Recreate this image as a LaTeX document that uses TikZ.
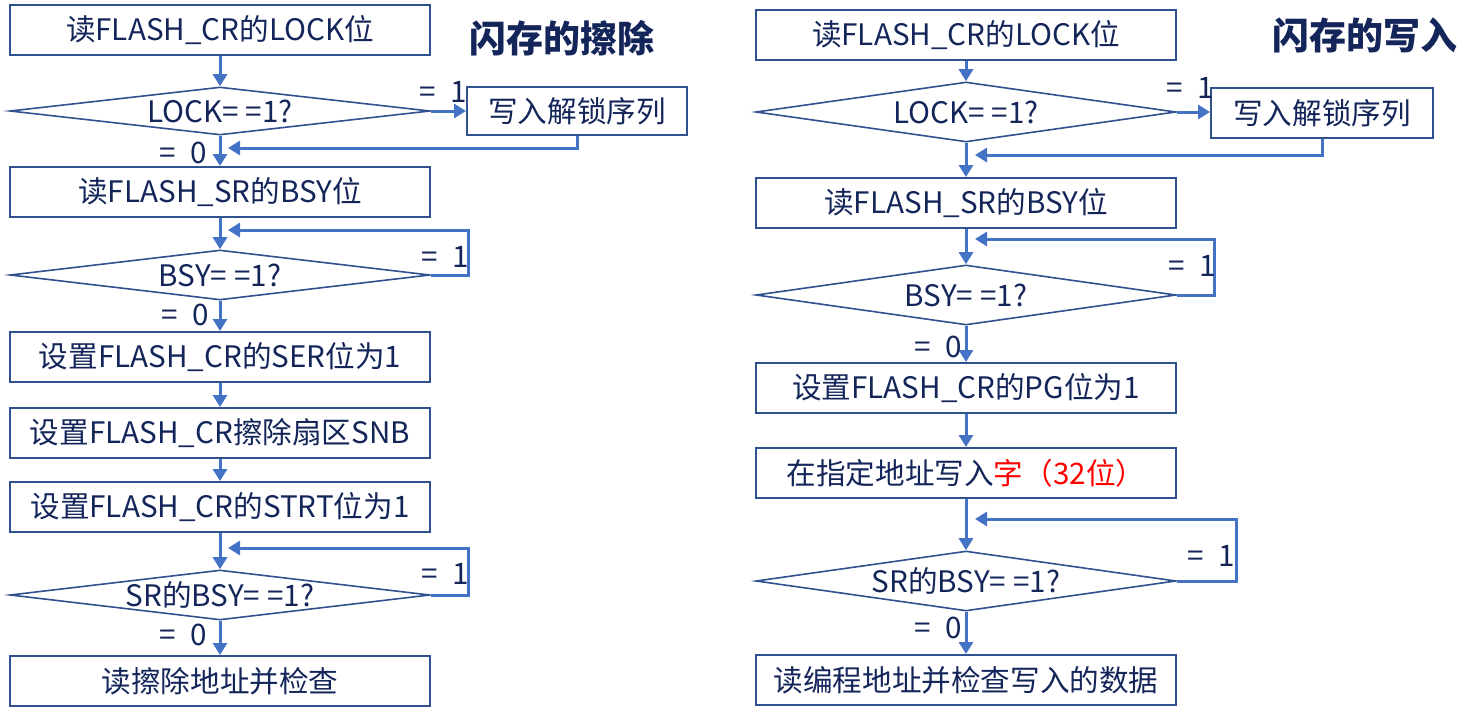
\documentclass[tikz,border=0pt]{standalone}
\usepackage{fontspec}
\setmainfont{Noto Sans CJK SC}
\usetikzlibrary{shapes.geometric,arrows.meta}
\definecolor{boxblue}{HTML}{2F528F}
\definecolor{lineblue}{HTML}{4472C4}
\definecolor{navy}{HTML}{14255A}
\newcommand{\eqeq}{=\kern3.5pt=}
\begin{document}
\begin{tikzpicture}[x=0.5pt, y=-0.5pt,
        every node/.style={font=\fontsize{14.8pt}{17pt}\selectfont, text=navy},
        box/.style={draw=boxblue, line width=1pt, minimum width=210pt, minimum height=25pt, inner sep=0pt},
        cond/.style={diamond, draw=boxblue, line width=0.8pt, minimum width=210pt, minimum height=24pt, aspect=8.4, inner sep=0pt},
        condb/.style={cond, minimum height=30pt, aspect=7},
        arr/.style={draw=lineblue, line width=1.5pt, -{Triangle[length=6pt, width=7pt]}},
        lbl/.style={inner sep=0pt},
        title/.style={font=\fontsize{18.5pt}{20pt}\selectfont\bfseries, text=navy}]
            \useasboundingbox (0,0) rectangle (1468,712);

            \node[box] (e1) at (220,30) {读FLASH\_CR的LOCK位};
            \node[cond] (d1) at (220,111) {LOCK\eqeq 1?};
            \node[box, minimum width=110pt, minimum height=24pt] (u1) at (577,111) {写入解锁序列};
            \node[box] (e2) at (220,192) {读FLASH\_SR的BSY位};
            \node[cond, minimum height=25pt] (d2) at (220,275) {BSY\eqeq 1?};
            \node[box] (e3) at (220,357) {设置FLASH\_CR的SER位为1};
            \node[box] (e4) at (220,433) {设置FLASH\_CR擦除扇区SNB};
            \node[box] (e5) at (220,507) {设置FLASH\_CR的STRT位为1};
            \node[cond, minimum height=25pt] (d3) at (220,595) {SR的BSY\eqeq 1?};
            \node[box] (e6) at (220,681) {读擦除地址并检查};
            \node[title] (t1) at (562,38) {闪存的擦除};

            \coordinate (r1) at (228,148);
            \coordinate (l2) at (228,230);
            \coordinate (l3) at (228,548);

            \draw[arr] (e1) -- (d1);
            \draw[arr] (d1) -- (u1);
            \draw[arr] (u1.south) |- (r1);
            \draw[arr] (d1) -- (e2);
            \draw[arr] (e2) -- (d2);
            \draw[arr] (d2.east) -- ++(38,0) |- (l2);
            \draw[arr] (d2) -- (e3);
            \draw[arr] (e3) -- (e4);
            \draw[arr] (e4) -- (e5);
            \draw[arr] (e5) -- (d3);
            \draw[arr] (d3.east) -- ++(38,0) |- (l3);
            \draw[arr] (d3) -- (e6);

            \node[lbl] (a1) at (443,92) {=\enspace1};
            \node[lbl] (a2) at (183,153) {=\enspace0};
            \node[lbl] (a3) at (445,257) {=\enspace1};
            \node[lbl] (a4) at (185,315) {=\enspace0};
            \node[lbl] (a5) at (445,574) {=\enspace1};
            \node[lbl] (a6) at (183,635) {=\enspace0};

            \node[box] (E1) at (966,35) {读FLASH\_CR的LOCK位};
            \node[condb] (D1) at (966,112) {LOCK\eqeq 1?};
            \node[box, minimum width=111pt] (U1) at (1322,113) {写入解锁序列};
            \node[box] (E2) at (966,203) {读FLASH\_SR的BSY位};
            \node[condb] (D2) at (966,295) {BSY\eqeq 1?};
            \node[box] (E3) at (966,388) {设置FLASH\_CR的PG位为1};
            \node[box] (E4) at (966,473) {在指定地址写入\textcolor{red}{字（32位）}};
            \node[condb] (D3) at (966,581) {SR的BSY\eqeq 1?};
            \node[box] (E5) at (966,680) {读编程地址并检查写入的数据};
            \node[title] (t2) at (1365,35) {闪存的写入};

            \coordinate (R1) at (975,155);
            \coordinate (L2) at (975,239);
            \coordinate (L3) at (975,519);

            \draw[arr] (E1) -- (D1);
            \draw[arr] (D1.east) -- (U1.west |- D1.east);
            \draw[arr] (U1.south) |- (R1);
            \draw[arr] (D1) -- (E2);
            \draw[arr] (E2) -- (D2);
            \draw[arr] (D2.east) -- ++(38,0) |- (L2);
            \draw[arr] (D2) -- (E3);
            \draw[arr] (E3) -- (E4);
            \draw[arr] (E4) -- (D3);
            \draw[arr] (D3.east) -- ++(60,0) |- (L3);
            \draw[arr] (D3) -- (E5);

            \node[lbl] (b1) at (1190,88) {=\enspace1};
            \node[lbl] (b2) at (1192,266) {=\enspace1};
            \node[lbl] (b3) at (938,347) {=\enspace0};
            \node[lbl] (b4) at (1211,556) {=\enspace1};
            \node[lbl] (b5) at (938,628) {=\enspace0};
        \end{tikzpicture}
\end{document}
